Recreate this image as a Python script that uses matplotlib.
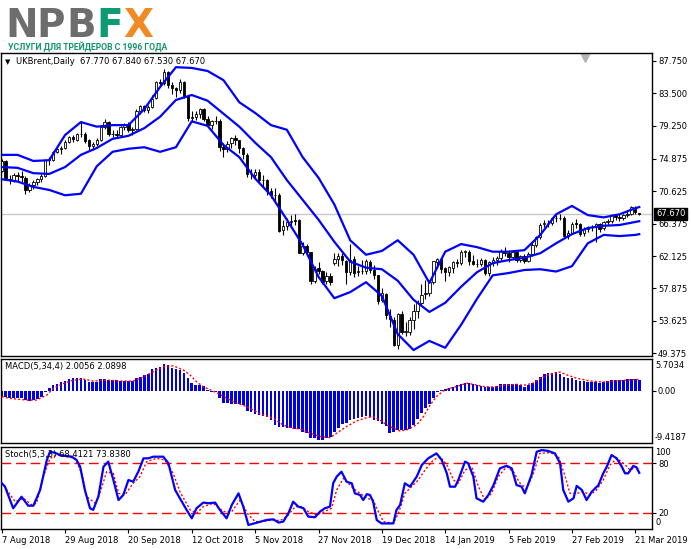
import numpy as np
import matplotlib
matplotlib.use("Agg")
import matplotlib.pyplot as plt

W, H = 691, 549

# ---- daily UKBrent bars, 7 Aug 2018 .. 22 Mar 2019 (bar index 0..161) ----
opens = [73.30, 74.60, 72.30, 72.10, 72.80, 72.60, 72.40, 70.80, 71.40, 71.80,
         72.20, 72.60, 74.80, 74.70, 75.80, 76.20, 76.30, 77.10, 77.80, 77.40,
         78.10, 78.20, 77.30, 76.50, 76.80, 77.40, 79.10, 79.70, 78.20, 78.10,
         78.00, 79.00, 79.40, 78.70, 78.80, 81.20, 81.80, 81.30, 81.70, 82.80,
         85.00, 84.80, 86.30, 84.60, 84.20, 83.90, 85.00, 83.10, 80.30, 80.40,
         80.80, 81.40, 80.10, 79.30, 79.80, 79.80, 76.40, 76.20, 76.90, 77.60,
         77.30, 76.30, 75.40, 72.90, 72.80, 73.20, 72.10, 72.10, 70.70, 70.20,
         70.10, 65.50, 66.10, 66.60, 66.80, 66.80, 62.50, 63.50, 62.60, 58.80,
         60.50, 60.20, 58.80, 59.50, 61.20, 61.70, 62.10, 61.50, 60.10, 61.70,
         60.00, 60.20, 60.20, 61.40, 60.30, 59.60, 56.30, 57.20, 54.30, 53.80,
         50.50, 54.50, 52.20, 52.20, 53.80, 54.90, 56.00, 57.10, 57.30, 58.70,
         61.40, 61.70, 60.50, 60.00, 60.60, 61.30, 61.20, 62.70, 62.70, 61.50,
         61.10, 61.10, 61.60, 59.90, 61.30, 61.60, 61.90, 62.70, 62.50, 62.00,
         62.70, 61.60, 62.10, 61.50, 62.40, 63.60, 64.60, 66.30, 66.50, 66.50,
         67.10, 67.10, 67.10, 64.80, 65.20, 66.40, 66.30, 65.10, 65.70, 65.90,
         66.00, 66.30, 65.80, 66.60, 66.70, 67.50, 67.20, 67.10, 67.50, 67.60,
         68.40, 67.77]
highs = [74.80, 74.70, 72.80, 73.00, 73.20, 73.30, 72.60, 71.70, 72.10, 72.40,
         72.90, 74.90, 75.10, 75.90, 76.50, 76.60, 77.30, 77.90, 78.00, 78.30,
         79.70, 78.40, 77.50, 77.10, 77.60, 79.20, 80.10, 79.80, 78.70, 78.60,
         79.20, 79.60, 79.70, 79.10, 81.40, 81.90, 82.00, 81.90, 83.20, 85.10,
         85.40, 86.70, 86.40, 85.00, 84.30, 85.40, 85.10, 83.30, 81.20, 81.20,
         81.50, 81.50, 80.50, 80.00, 80.50, 80.10, 77.00, 77.20, 77.80, 78.00,
         77.40, 76.40, 75.60, 73.50, 73.60, 73.50, 72.80, 72.30, 71.00, 71.10,
         70.40, 66.90, 67.10, 67.50, 67.70, 67.00, 64.00, 63.70, 62.70, 60.80,
         61.30, 60.30, 60.00, 59.90, 62.50, 62.50, 62.50, 61.60, 63.70, 62.20,
         60.80, 61.60, 61.80, 61.60, 60.90, 59.70, 57.90, 57.30, 55.20, 54.10,
         54.60, 54.90, 53.50, 54.20, 55.90, 56.30, 58.40, 59.00, 59.00, 61.50,
         61.90, 61.90, 60.70, 60.80, 61.50, 61.80, 62.90, 62.90, 62.90, 62.30,
         61.80, 61.90, 61.70, 61.50, 62.00, 62.20, 63.00, 63.30, 62.90, 62.90,
         62.80, 62.30, 62.40, 62.60, 63.80, 64.70, 66.40, 66.80, 66.80, 67.20,
         67.50, 67.60, 67.40, 65.50, 66.60, 67.00, 66.40, 65.90, 66.10, 66.20,
         66.50, 66.40, 66.70, 67.00, 67.70, 67.70, 67.60, 67.70, 68.00, 68.70,
         68.70, 67.84]
lows = [73.10, 72.10, 71.60, 71.90, 72.00, 71.80, 70.30, 70.50, 70.90, 71.50,
        71.90, 72.50, 74.10, 74.60, 75.60, 75.50, 76.20, 76.90, 77.10, 77.20,
        77.80, 77.00, 76.00, 76.00, 76.50, 77.20, 78.80, 77.90, 77.70, 77.60,
        77.80, 78.60, 78.40, 78.00, 78.70, 80.80, 81.00, 80.90, 81.50, 82.70,
        84.40, 84.60, 84.20, 83.40, 83.00, 83.50, 82.90, 79.90, 79.70, 80.00,
        80.20, 79.80, 79.10, 78.80, 79.40, 75.90, 75.10, 75.80, 76.30, 76.70,
        75.60, 74.80, 72.50, 72.20, 72.40, 71.90, 71.20, 70.20, 69.70, 69.30,
        65.30, 64.90, 65.60, 66.10, 66.20, 62.50, 62.30, 62.20, 58.40, 58.60,
        59.80, 58.40, 58.40, 58.30, 60.90, 60.80, 61.00, 58.50, 59.70, 59.40,
        59.50, 59.80, 59.80, 59.90, 59.10, 55.90, 56.10, 53.90, 52.80, 50.30,
        49.90, 51.90, 51.70, 51.80, 52.60, 54.00, 55.70, 56.50, 56.90, 58.40,
        60.60, 59.90, 58.90, 59.50, 59.90, 60.70, 61.00, 62.00, 61.00, 60.90,
        60.70, 60.80, 59.60, 59.50, 60.80, 61.00, 61.50, 62.20, 61.30, 61.70,
        61.30, 61.40, 61.20, 61.30, 62.20, 63.30, 64.40, 66.00, 65.90, 66.20,
        66.60, 66.80, 64.60, 64.40, 65.00, 65.80, 64.80, 64.70, 65.30, 65.40,
        64.00, 65.30, 65.60, 66.20, 66.50, 66.90, 66.70, 66.90, 67.30, 67.50,
        67.60, 67.53]
closes = [74.65, 72.28, 72.07, 72.81, 72.61, 72.46, 70.76, 71.43, 71.83, 72.21,
          72.63, 74.78, 74.73, 75.82, 76.21, 76.31, 77.14, 77.77, 77.42, 78.15,
          78.17, 77.27, 76.50, 76.83, 77.37, 79.06, 79.74, 78.18, 78.09, 78.05,
          79.03, 79.40, 78.70, 78.80, 81.20, 81.87, 81.34, 81.72, 82.72, 84.98,
          84.80, 86.29, 84.58, 84.16, 83.91, 85.00, 83.09, 80.26, 80.43, 80.78,
          81.41, 80.05, 79.29, 79.78, 79.83, 76.44, 76.17, 76.89, 77.62, 77.34,
          76.31, 75.47, 72.89, 72.83, 73.17, 72.13, 72.07, 70.65, 70.18, 70.12,
          65.47, 66.12, 66.62, 66.76, 66.79, 62.53, 63.48, 62.60, 58.80, 60.48,
          60.21, 58.76, 59.51, 58.71, 61.69, 62.08, 61.56, 60.06, 61.67, 59.97,
          60.20, 60.15, 61.45, 60.28, 59.61, 56.26, 57.24, 54.35, 53.82, 50.47,
          54.47, 52.16, 52.20, 53.80, 54.91, 55.95, 57.06, 57.33, 58.72, 61.44,
          61.68, 60.48, 59.99, 60.64, 61.32, 61.18, 62.70, 62.74, 61.50, 61.14,
          61.09, 61.64, 59.93, 61.32, 61.65, 61.89, 62.75, 62.51, 61.98, 62.69,
          61.63, 62.10, 61.51, 62.42, 63.61, 64.57, 66.25, 66.50, 66.45, 67.08,
          67.07, 67.12, 64.76, 65.21, 66.39, 66.31, 65.07, 65.67, 65.86, 65.99,
          66.30, 65.74, 66.58, 66.67, 67.55, 67.23, 67.16, 67.54, 67.61, 68.50,
          67.86, 67.67]

# Bollinger bands read every 4th bar
bb_idx = list(range(0, 161, 4)) + [161]
bb_upper = [75.4, 75.4, 74.6, 74.7, 78.0, 79.7, 79.1, 79.3, 79.3, 81.4, 84.3,
            86.9, 86.8, 86.4, 85.2, 82.3, 80.9, 79.3, 78.7, 75.1, 72.4, 68.9,
            64.2, 62.3, 62.8, 64.2, 62.3, 58.6, 62.7, 63.7, 63.3, 62.7, 62.7,
            62.9, 64.9, 67.6, 68.7, 67.5, 67.2, 67.6, 68.4, 68.55]
bb_mid = [73.8, 73.7, 73.0, 72.9, 73.8, 75.4, 76.3, 77.5, 77.9, 78.9, 80.4,
          82.6, 83.25, 82.5, 80.8, 79.1, 77.0, 75.1, 72.1, 69.5, 66.9, 64.0,
          61.4, 60.6, 60.4, 58.9, 56.4, 54.8, 56.0, 58.1, 60.0, 61.2, 61.6,
          61.9, 62.5, 63.8, 65.0, 65.8, 66.1, 66.2, 66.6, 66.7]
bb_lower = [72.2, 71.9, 71.2, 70.8, 70.1, 70.3, 73.9, 75.8, 76.2, 76.4, 75.8,
            76.4, 79.8, 79.2, 76.7, 75.1, 72.3, 70.1, 66.9, 63.6, 59.4, 56.6,
            57.4, 58.7, 56.9, 51.9, 49.8, 51.0, 50.1, 53.1, 56.5, 59.6, 59.9,
            60.3, 60.4, 60.1, 60.8, 63.8, 64.9, 64.75, 64.9, 65.0]

# MACD(5,34,4)
macd_hist = [-1.0, -1.0, -1.2, -1.2, -1.3, -1.3, -1.7, -1.8, -1.6, -1.5,
             -1.0, -0.2, 0.5, 1.0, 1.2, 1.6, 1.8, 2.2, 2.3, 2.3,
             2.3, 2.0, 1.7, 1.6, 1.7, 2.2, 2.2, 2.0, 1.9, 1.9,
             1.8, 1.8, 1.8, 1.8, 2.3, 2.6, 2.9, 3.0, 3.9, 4.1,
             4.4, 4.8, 4.6, 4.2, 4.0, 3.8, 3.2, 2.3, 1.4, 1.1,
             1.0, 0.9, 0.2, -0.1, -0.2, -1.3, -2.1, -2.2, -2.3, -2.3,
             -2.4, -2.6, -3.6, -3.8, -4.2, -4.3, -4.5, -4.6, -5.2, -6.2,
             -6.4, -6.4, -6.6, -6.7, -6.8, -6.9, -7.3, -7.6, -8.5, -8.5,
             -8.8, -8.8, -8.5, -8.2, -7.4, -6.7, -6.0, -5.7, -5.3, -5.1,
             -4.8, -4.6, -4.5, -4.7, -5.2, -5.4, -6.0, -6.3, -7.6, -7.3,
             -7.0, -7.0, -7.0, -6.8, -6.2, -5.0, -4.0, -3.1, -2.4, -1.3,
             -0.2, 0.2, 0.4, 0.5, 0.7, 1.0, 1.2, 1.4, 1.4, 1.2,
             1.0, 0.9, 0.7, 0.7, 0.8, 0.9, 1.2, 1.3, 1.3, 1.3,
             1.2, 1.0, 0.8, 1.1, 1.4, 2.0, 2.6, 3.0, 3.2, 3.3,
             3.5, 3.0, 2.6, 2.4, 2.3, 2.0, 1.8, 1.8, 1.7, 1.7,
             1.6, 1.4, 1.7, 1.8, 2.0, 2.0, 2.0, 2.0, 2.1, 2.2,
             2.2, 2.0]
macd_sig_idx = [0, 2.1, 6.3, 8.8, 11.4, 13.0, 15.6, 18.1, 20.6, 23.1,
                26.5, 29.9, 33.2, 35.8, 38.3, 40.8, 43.3, 45.9, 47.6, 49.2,
                50.9, 53.4, 55.1, 58.5, 61.9, 65.2, 68.6, 71.1, 73.6, 75.3,
                77.9, 80.4, 82.9, 84.6, 87.1, 89.6, 92.2, 93.8, 95.5, 97.2,
                98.9, 100.6, 102.3, 104.8, 106.5, 108.2, 109.8, 111.5, 113.2, 114.9,
                117.4, 119.1, 121.6, 124.1, 126.7, 130.0, 131.7, 134.2, 136.8, 139.3,
                141.0, 142.7, 145.2, 148.6, 151.9, 155.3, 158.7, 161]
macd_sig = [-1.03, -1.33, -1.63, -1.63, -0.73, 0.46, 1.36, 1.96, 2.14, 1.78,
            1.96, 1.78, 1.78, 2.56, 3.46, 4.36, 4.54, 3.76, 2.86, 1.66,
            0.76, -0.02, -0.62, -1.93, -2.83, -4.03, -4.93, -6.13, -6.73, -6.8,
            -7.6, -8.2, -8.4, -7.6, -6.4, -5.4, -4.8, -4.6, -5.2, -6.1,
            -6.7, -7.2, -7.0, -6.1, -4.6, -2.5, -1.0, 0.0, 0.5, 0.8,
            1.4, 1.2, 0.8, 0.7, 1.0, 1.2, 1.0, 1.4, 2.6, 3.2,
            3.4, 2.9, 2.3, 1.8, 1.6, 1.8, 2.0, 2.09]

# Stochastic(5,3,3)
stoch_idx = [0, 0.8, 2.9, 5.0, 6.7, 8.0, 9.7, 11.4, 12.2, 13.5,
             14.7, 16.0, 17.7, 18.9, 19.8, 21.0, 22.3, 23.1, 24.4, 25.7,
             26.9, 28.2, 29.5, 30.7, 32.0, 33.2, 34.5, 35.8, 37.0, 38.3,
             40.8, 42.1, 43.8, 45.0, 46.7, 48.0, 49.2, 50.9, 52.2, 53.9,
             55.1, 56.8, 58.1, 59.8, 61.0, 62.3, 64.4, 66.9, 68.6, 69.9,
             71.1, 72.4, 73.6, 74.9, 76.2, 77.4, 79.1, 80.4, 81.6, 82.9,
             83.7, 84.6, 85.8, 87.1, 88.4, 89.2, 90.5, 91.3, 92.2, 93.0,
             93.8, 94.7, 95.9, 97.6, 98.9, 99.7, 100.6, 101.8, 103.1, 104.8,
             106.1, 107.7, 109.8, 111.1, 112.4, 113.2, 114.5, 115.3, 117.0, 117.8,
             119.1, 119.9, 121.6, 122.9, 124.2, 125.8, 127.5, 128.8, 130.0, 131.3,
             132.1, 133.8, 135.1, 136.4, 138.0, 139.7, 141.0, 141.8, 143.1, 144.4,
             145.2, 146.5, 147.7, 149.0, 150.7, 151.9, 152.8, 154.0, 155.3, 156.6,
             157.4, 158.2, 159.5, 160.3, 161]
stoch_main = [55.7, 52, 25.4, 39.4, 28.5, 28.5, 47.6, 84, 94, 92.7,
              90, 89, 88, 84, 76, 47.6, 25.4, 23.4, 39.4, 75.8,
              82, 59.7, 35.4, 41.5, 59.7, 57.6, 69.8, 86, 86, 88,
              88, 80, 47.6, 37.5, 23.4, 13.2, 25.4, 32.3, 31.5, 32.3,
              23.4, 13.2, 29.4, 43.5, 27.4, 5.1, 7.9, 11.2, 12, 8,
              9.2, 19.3, 33.4, 27.4, 25.4, 15.3, 14.5, 21.4, 25.4, 27.4,
              55.7, 63.8, 69.8, 57.6, 55.7, 43.5, 41.5, 35.4, 42.5, 41.5,
              33.4, 11.2, 7, 7, 7, 23.4, 29.4, 55.7, 51.6, 63.8,
              78, 86, 92, 84, 67.8, 51.6, 51.6, 59.7, 82, 80,
              63.8, 37.5, 33.4, 41.5, 53.6, 73.8, 77, 73.8, 53.6, 51.6,
              43.5, 65.8, 94, 96, 95, 92, 80, 47.6, 33.4, 37.5,
              52.6, 47.6, 35.4, 45.5, 53.6, 67.8, 75.8, 90, 86, 75.8,
              67.8, 67.8, 76.8, 75, 68.41]
stoch_sig_idx = [0, 1.3, 3.4, 5.5, 7.6, 8.8, 10.5, 12.2, 13.9, 16.4,
                 18.5, 20.2, 21.5, 23.6, 24.8, 26.5, 28.2, 29.5, 31.1, 33.2,
                 34.9, 36.6, 39.1, 41.2, 43.3, 45.0, 47.6, 49.2, 50.9, 53.4,
                 56.0, 58.1, 60.2, 62.3, 64.0, 66.1, 68.2, 70.3, 72.0, 74.1,
                 75.7, 77.4, 79.5, 81.6, 83.3, 84.6, 86.3, 88.8, 90.5, 92.2,
                 93.8, 95.1, 96.4, 98.9, 100.2, 101.8, 103.5, 105.2, 106.9, 109.0,
                 110.7, 112.4, 114.1, 115.3, 117.0, 118.7, 120.4, 122.0, 123.7, 125.4,
                 127.5, 129.2, 130.9, 132.6, 134.3, 135.9, 138.5, 140.6, 142.3, 143.5,
                 145.2, 146.9, 148.6, 150.2, 151.9, 153.6, 155.3, 157.0, 158.7, 160.3,
                 161]
stoch_sig = [57, 47.6, 33.4, 37.5, 29.4, 31.5, 63.8, 86, 90, 88,
             86, 67.8, 39.4, 31.5, 43.5, 69.8, 67.8, 43.5, 41.5, 55.7,
             63.8, 82, 86, 84, 67.8, 45.5, 23.4, 19.3, 27.4, 31.5,
             21.4, 21.4, 35.4, 17.3, 9.2, 9.2, 11.2, 10.4, 15.3, 27.4,
             27.4, 21.4, 17.3, 21.4, 25.4, 47.6, 61.8, 49.5, 43.5, 37.5,
             35.4, 21.4, 9.2, 7.2, 19.3, 43.5, 51.6, 59.7, 71.8, 84,
             88, 78, 59.7, 55.7, 71.8, 75.8, 51.6, 35.4, 43.5, 63.8,
             75.8, 69.8, 55.7, 49.5, 67.8, 92, 93, 88, 63.8, 43.5,
             43.5, 45.5, 41.5, 47.6, 59.7, 77.8, 86, 80, 71.8, 75.8,
             73.84]

date_ticks = [0, 16, 32, 48, 64, 80, 96, 112, 128, 144, 160]
date_labels = ["7 Aug 2018", "29 Aug 2018", "20 Sep 2018", "12 Oct 2018",
               "5 Nov 2018", "27 Nov 2018", "19 Dec 2018", "14 Jan 2019",
               "5 Feb 2019", "27 Feb 2019", "21 Mar 2019"]
price_ticks = [87.750, 83.500, 79.250, 74.875, 70.625, 66.375, 62.125,
               57.875, 53.625, 49.375]

logo_letters = ["N", "P", "B", "F", "X"]
logo_colors = ["#6d6d6d", "#6d6d6d", "#6d6d6d", "#0e9b74", "#f08a24"]


def fx(px):
    return px / W


def fy(py):
    return 1 - py / H


FS = 6
fig = plt.figure(figsize=(W / 100, H / 100), dpi=100)
fig.patch.set_facecolor("white")

left, right = 0.5, 651.7
ax1 = fig.add_axes([fx(left), fy(356), fx(right - left), (356 - 53) / H])
ax2 = fig.add_axes([fx(left), fy(443.3), fx(right - left), (443.3 - 359.3) / H])
ax3 = fig.add_axes([fx(left), fy(529.2), fx(right - left), (529.2 - 446.8) / H])

x = np.arange(len(closes))
o = np.array(opens)
c = np.array(closes)
xmin = -1.2 / 3.96
xmax = xmin + (right - left) / 3.96

for ax in (ax1, ax2, ax3):
    ax.set_xlim(xmin, xmax)
    for s in ax.spines.values():
        s.set_linewidth(1)
        s.set_color("black")
    ax.yaxis.tick_right()
    ax.tick_params(axis="y", which="both", direction="out", length=3, width=0.8,
                   labelsize=FS, pad=1.5, left=False, right=True)
    ax.tick_params(axis="x", bottom=False, labelbottom=False)

# ---- main price panel ----
ax1.set_ylim(49.02, 88.76)
ax1.axhline(closes[-1], color="#c8c8c8", lw=1, zorder=1)
ax1.vlines(x, lows, highs, color="black", lw=0.8, zorder=2)
body_bot = np.minimum(o, c)
body_h = np.maximum(np.abs(c - o), 0.06)
body_col = ["white" if cc >= oo else "black" for oo, cc in zip(o, c)]
ax1.bar(x, body_h, 0.6, bottom=body_bot, color=body_col, edgecolor="black",
        linewidth=0.6, zorder=3)
for band in (bb_upper, bb_mid, bb_lower):
    ax1.plot(bb_idx, band, color="#0000ff", lw=1.6, zorder=4)
ax1.set_yticks(price_ticks)
ax1.set_yticklabels(["%.3f" % v for v in price_ticks])
ax1.plot([0.8976], [0.985], marker="v", color="#b4b4b4", ms=6,
         transform=ax1.transAxes, clip_on=False)

fig.text(fx(5), fy(62), "\u25bc", fontsize=5, va="center", ha="left")
fig.text(fx(16), fy(62), "UKBrent,Daily  67.770 67.840 67.530 67.670",
         fontsize=FS, va="center", ha="left")
fig.text(fx(656), fy(214), "67.670", fontsize=FS, color="white", va="center",
         ha="left", bbox=dict(boxstyle="square,pad=0.2", fc="black", ec="black"))

# ---- MACD panel ----
ax2.set_ylim(-9.4187, 5.7034)
ax2.bar(x, macd_hist, width=0.65, color="#0000e6", zorder=2)
ax2.plot(macd_sig_idx, macd_sig, color="#ff0000", lw=1, ls=(0, (1.5, 1.5)), zorder=3)
ax2.set_yticks([0])
ax2.set_yticklabels(["0.00"])
fig.text(fx(655), fy(366), "5.7034", fontsize=FS, va="center", ha="left")
fig.text(fx(655), fy(437), "-9.4187", fontsize=FS, va="center", ha="left")
fig.text(fx(5), fy(367), "MACD(5,34,4) 2.0056 2.0898", fontsize=FS,
         va="center", ha="left")

# ---- Stochastic panel ----
ax3.set_ylim(0, 100)
for lvl in (80, 20):
    ax3.axhline(lvl, color="#ff0000", lw=1, dashes=(7, 3.5), zorder=1)
ax3.plot(stoch_sig_idx, stoch_sig, color="#ff0000", lw=1, ls=(0, (1.5, 1.5)), zorder=3)
ax3.plot(stoch_idx, stoch_main, color="#0000ff", lw=1.6, zorder=4)
ax3.set_yticks([80, 20])
ax3.set_yticklabels(["80", "20"])
fig.text(fx(655), fy(452.7), "100", fontsize=FS, va="center", ha="left")
fig.text(fx(655), fy(522.7), "0", fontsize=FS, va="center", ha="left")
fig.text(fx(5), fy(454), "Stoch(5,3,3) 68.4121 73.8380", fontsize=FS,
         va="center", ha="left", zorder=0)

ax3.set_xticks(date_ticks)
ax3.set_xticklabels(date_labels, ha="left")
ax3.tick_params(axis="x", bottom=True, labelbottom=True, direction="out",
                length=3, width=0.8, labelsize=FS, pad=2)

# ---- logo: one letter at a time so the spacing follows the original ----
letter_x = [5, 36, 66, 96, 123]
for ch, col, px in zip(logo_letters, logo_colors, letter_x):
    fig.text(fx(px), fy(37), ch, fontsize=28, fontweight="heavy", color=col,
             va="baseline", ha="left")
fig.text(fx(8), fy(50.5), "УСЛУГИ ДЛЯ ТРЕЙДЕРОВ С 1996 ГОДА", fontsize=6.2,
         fontweight="bold", color="#13956e", family=["Roboto", "DejaVu Sans"],
         va="baseline", ha="left")

fig.savefig("out.png", dpi=100)
